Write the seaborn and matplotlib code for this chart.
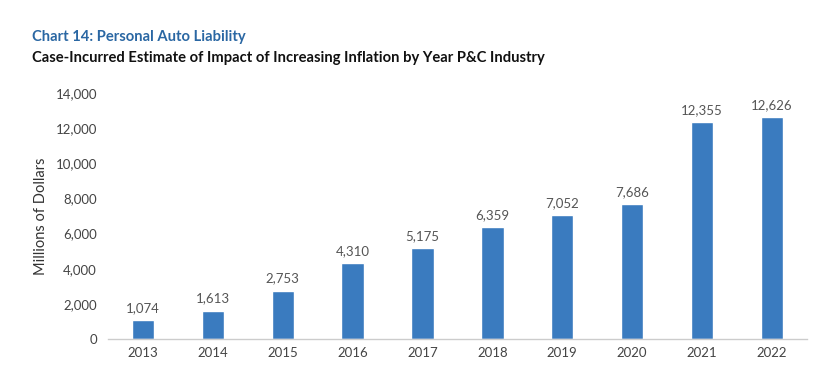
import matplotlib
matplotlib.use('Agg')
import matplotlib.pyplot as plt
import seaborn as sns
import pandas as pd

years = ['2013', '2014', '2015', '2016', '2017', '2018', '2019', '2020', '2021', '2022']
values = [1074, 1613, 2753, 4310, 5175, 6359, 7052, 7686, 12355, 12626]

df = pd.DataFrame({'year': years, 'value': values})

sns.set_style('white')
plt.rcParams['font.family'] = ['Lato', 'DejaVu Sans']

fig = plt.figure(figsize=(8.31, 3.82), dpi=100)
ax = fig.add_axes([0.130, 0.1126, 0.841, 0.644])

sns.barplot(data=df, x='year', y='value', color='#3a7bbf', width=0.32,
            saturation=1, ax=ax)

# value labels above bars
for i, v in enumerate(values):
    ax.text(i, v + 350, f'{v:,}', ha='center', va='bottom',
            fontsize=9.5, color='#555555')

ax.set_ylim(0, 14000)
ax.set_xlim(-0.5, 9.5)
ax.set_yticks(range(0, 14001, 2000))
ax.set_yticklabels([f'{t:,}' for t in range(0, 14001, 2000)])
ax.tick_params(axis='both', labelsize=9.5, colors='#444444', length=0, pad=8)
ax.tick_params(axis='x', pad=6)
ax.set_xlabel('')
ax.set_ylabel('Millions of Dollars', fontsize=10.5, color='#333333', labelpad=5)

for s in ['top', 'right', 'left']:
    ax.spines[s].set_visible(False)
ax.spines['bottom'].set_color('#cccccc')
ax.spines['bottom'].set_linewidth(1)

fig.text(0.0385, 0.903, 'Chart 14: Personal Auto Liability', fontsize=10.6,
         fontweight='bold', color='#2a67a3', va='center')
fig.text(0.0385, 0.848, 'Case-Incurred Estimate of Impact of Increasing Inflation by Year P&C Industry',
         fontsize=10.6, fontweight='bold', color='#111111', va='center')

fig.savefig('out.png', dpi=100)
